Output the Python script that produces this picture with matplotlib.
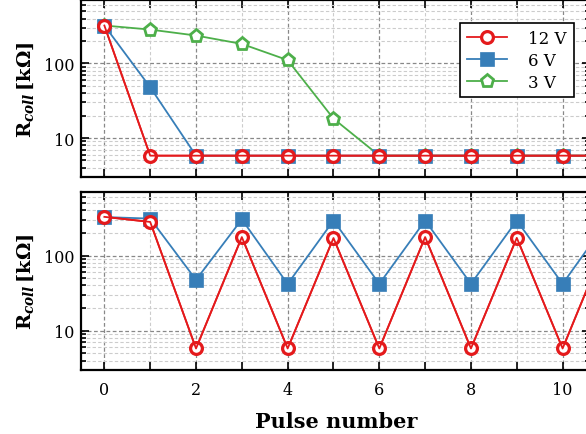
import matplotlib
matplotlib.use('Agg')
import matplotlib.pyplot as plt
from matplotlib.ticker import MultipleLocator, LogLocator, NullFormatter, FixedLocator

plt.rcParams['font.family'] = 'DejaVu Serif'
plt.rcParams['mathtext.fontset'] = 'dejavuserif'

pulses = list(range(12))

# top panel: switching off at different voltages
top_12v = [323, 5.8, 5.8, 5.8, 5.8, 5.8, 5.8, 5.8, 5.8, 5.8, 5.8, 5.8]
top_6v = [323, 48, 5.8, 5.8, 5.8, 5.8, 5.8, 5.8, 5.8, 5.8, 5.8, 5.8]
top_3v = [323, 285, 237, 183, 111, 18.2, 5.8, 5.8, 5.8, 5.8, 5.8, 5.8]

# bottom panel: alternating pulses
bot_12v = [327, 280, 5.8, 176, 5.8, 171, 5.8, 176, 5.8, 172, 5.8, 176]
bot_6v = [325, 310, 47.5, 303, 41.8, 292, 42, 292, 42, 292, 42, 300]

red = '#e41a1c'
blue = '#377eb8'
green = '#4daf4a'

fig = plt.figure(figsize=(5.86, 4.35), dpi=100)
ax1 = fig.add_axes([0.139, 0.5908, 0.868, 0.4058])
ax2 = fig.add_axes([0.139, 0.1471, 0.868, 0.4092])


def draw_red(ax, y, label=None):
    ax.plot(pulses, y, color=red, lw=1.3, marker='o', ms=8.5, mew=2.3,
            mfc='white', mec=red, zorder=4, label=label)
    ax.plot(pulses, y, color=red, lw=1.3, zorder=4.1)


ax1.plot(pulses, top_3v, color=green, lw=1.3, marker='p', ms=9.5, mew=2,
         mfc='white', mec=green, zorder=2, label='3 V')
ax1.plot(pulses, top_6v, color=blue, lw=1.3, marker='s', ms=9.5, mew=0.5,
         mfc=blue, mec=blue, zorder=3, label='6 V')
draw_red(ax1, top_12v, '12 V')

ax2.plot(pulses, bot_6v, color=blue, lw=1.3, marker='s', ms=9.5, mew=0.5,
         mfc=blue, mec=blue, zorder=3)
draw_red(ax2, bot_12v)

for ax in (ax1, ax2):
    ax.set_yscale('log')
    ax.set_ylim(3, 700)
    ax.set_xlim(-0.5, 10.6)
    ax.xaxis.set_major_locator(MultipleLocator(2))
    ax.xaxis.set_minor_locator(FixedLocator([1, 3, 5, 7, 9, 11]))
    ax.yaxis.set_major_locator(FixedLocator([10, 100]))
    ax.yaxis.set_major_formatter(plt.FuncFormatter(lambda v, p: '%d' % v))
    ax.yaxis.set_minor_locator(LogLocator(base=10, subs=range(2, 10), numticks=20))
    ax.yaxis.set_minor_formatter(NullFormatter())
    ax.tick_params(which='both', direction='in', top=True, right=True,
                   labelsize=11.5, width=1.2)
    ax.tick_params(axis='x', which='both', length=6, pad=8)
    ax.tick_params(axis='y', which='major', length=6, pad=5)
    ax.tick_params(axis='y', which='minor', length=3.5)
    ax.grid(True, which='major', color='#888888', ls=(0, (3, 2)), lw=0.9)
    ax.grid(True, which='minor', color='#cccccc', ls=(0, (3, 2)), lw=0.8)
    for s in ax.spines.values():
        s.set_linewidth(1.6)
    ax.set_ylabel(r'R$_{\mathbfit{coll}}\,$[k$\mathbf{\Omega}$]', fontsize=14,
                  fontweight='bold', labelpad=6)

ax1.tick_params(axis='x', labelbottom=False)
ax2.set_xlabel('Pulse number', fontsize=15, fontweight='bold', labelpad=9)

h, l = ax1.get_legend_handles_labels()
order = [2, 1, 0]
leg = ax1.legend([h[i] for i in order], [l[i] for i in order],
                 loc='upper right', bbox_to_anchor=(0.984, 0.92),
                 fontsize=12, handlelength=2.4, handletextpad=1.3,
                 fancybox=False, framealpha=1, edgecolor='black',
                 borderpad=0.4, labelspacing=0.3)
leg.get_frame().set_linewidth(1.2)

fig.savefig('out.png', dpi=100)
